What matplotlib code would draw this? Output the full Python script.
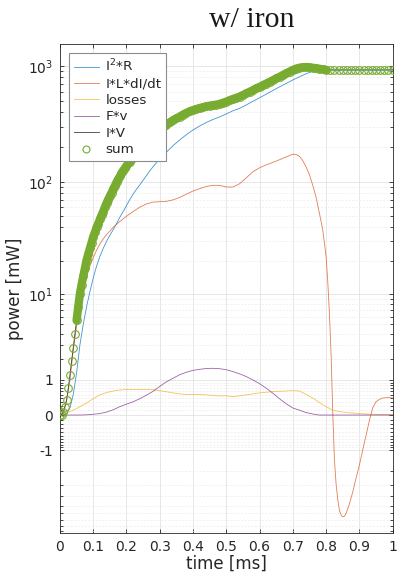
import numpy as np
import matplotlib
matplotlib.use("Agg")
import matplotlib.pyplot as plt
from matplotlib.lines import Line2D

# ---------------- data (time in ms, power in mW) ----------------
t_sum = [0.000, 0.005, 0.010, 0.015, 0.020, 0.025, 0.030, 0.035, 0.040, 0.045,
         0.050, 0.055, 0.060, 0.065, 0.070, 0.075, 0.080, 0.085, 0.090, 0.095,
         0.100, 0.105, 0.110, 0.115, 0.120, 0.125, 0.130, 0.135, 0.140, 0.145,
         0.150, 0.155, 0.160, 0.165, 0.170, 0.175, 0.180, 0.185, 0.190, 0.195,
         0.20, 0.21, 0.22, 0.23, 0.24, 0.25, 0.26, 0.27, 0.28, 0.29,
         0.30, 0.31, 0.32, 0.33, 0.34, 0.35, 0.36, 0.37, 0.38, 0.39,
         0.40, 0.41, 0.42, 0.43, 0.44, 0.45, 0.46, 0.47, 0.48, 0.49,
         0.50, 0.51, 0.52, 0.53, 0.54, 0.55, 0.56, 0.57, 0.58, 0.59,
         0.60, 0.61, 0.62, 0.63, 0.64, 0.65, 0.66, 0.67, 0.68, 0.69,
         0.70, 0.71, 0.72, 0.73, 0.74, 0.75, 0.76, 0.77, 0.78, 0.79,
         0.80, 0.8125, 0.825, 0.8375, 0.85, 0.8625, 0.875, 0.8875, 0.90,
         0.9125, 0.925, 0.9375, 0.95, 0.9625, 0.975, 0.9875, 1.0]
sum_vals = [0.0, 0.01, 0.06, 0.18, 0.35, 0.7, 1.2, 1.9, 2.8, 4.0,
            5.5, 7.5, 10.0, 12.2, 14.5, 17.2, 20.4, 23.0, 26.0, 29.2,
            33.0, 36.0, 40.0, 43.0, 47.0, 51.0, 55.0, 60.0, 65.0, 70.0,
            75.0, 80.0, 86.0, 92.0, 99.0, 105.0, 111.0, 118.0, 125.0, 131.0,
            137, 148, 160, 172, 185, 198, 212, 230, 250, 265,
            280, 295, 310, 325, 340, 352, 365, 380, 393, 405,
            415, 425, 433, 440, 447, 453, 458, 463, 470, 480,
            492, 505, 518, 530, 542, 560, 578, 597, 617, 638,
            658, 680, 703, 727, 750, 777, 803, 830, 860, 890,
            920, 945, 962, 972, 975, 970, 962, 952, 942, 932,
            923, 920, 920, 920, 920, 920, 920, 920, 920,
            920, 920, 920, 920, 920, 920, 920, 920]
iv_vals = list(sum_vals)  # I*V reads identical to the sum in the picture
dense_from, dense_to = 0.05, 0.80   # span where the sum markers merge into a solid band

t_i2r = [0.00, 0.01, 0.02, 0.03, 0.04, 0.05, 0.06, 0.07, 0.08, 0.09,
         0.10, 0.11, 0.12, 0.13, 0.14, 0.15, 0.16, 0.17, 0.18, 0.19,
         0.20, 0.21, 0.22, 0.23, 0.24, 0.25, 0.26, 0.27, 0.28, 0.29,
         0.30, 0.32, 0.34, 0.36, 0.38, 0.40, 0.42, 0.44, 0.46, 0.48,
         0.50, 0.52, 0.54, 0.56, 0.58, 0.60, 0.62, 0.64, 0.66, 0.68,
         0.70, 0.72, 0.74, 0.76, 0.78, 0.80, 0.85, 0.90, 0.95, 1.00]
i2r_vals = [0.0, 0.0, 0.02, 0.15, 0.5, 1.3, 3.0, 5.0, 7.5, 10.5,
            14, 18, 22, 26, 30, 34, 38, 43, 49, 55,
            62, 70, 78, 86, 94, 103, 113, 124, 135, 146,
            157, 180, 205, 230, 255, 280, 303, 325, 345, 363,
            385, 410, 430, 460, 495, 530, 570, 613, 658, 705,
            755, 803, 855, 895, 918, 920, 920, 920, 920, 920]

t_ildi = [0.00, 0.01, 0.02, 0.03, 0.04, 0.05, 0.06, 0.07, 0.08, 0.09,
          0.10, 0.11, 0.12, 0.13, 0.14, 0.15, 0.16, 0.18, 0.20, 0.22,
          0.24, 0.26, 0.28, 0.30, 0.32, 0.34, 0.36, 0.38, 0.40, 0.42,
          0.44, 0.46, 0.48, 0.50, 0.52, 0.54, 0.56, 0.58, 0.60, 0.62,
          0.64, 0.66, 0.68, 0.70, 0.71, 0.72, 0.73, 0.74, 0.75, 0.76,
          0.77, 0.78, 0.79, 0.80, 0.805, 0.81, 0.815, 0.82, 0.825, 0.83,
          0.835, 0.84, 0.845, 0.85, 0.855, 0.86, 0.87, 0.88, 0.89, 0.90,
          0.91, 0.92, 0.93, 0.94, 0.95, 0.96, 0.97, 0.98, 0.99, 1.00]
ildi_vals = [0.0, 0.05, 0.33, 1.0, 2.6, 4.8, 7.5, 10.8, 14.5, 18.0,
             21.5, 25.0, 28.5, 31.5, 34.5, 37.0, 40.0, 45.0, 50.0, 55.0,
             60.0, 64.0, 66.5, 67.0, 67.5, 69.5, 73.0, 78.0, 83.0, 87.0,
             91.0, 93.0, 93.0, 90.0, 90.0, 96.0, 108.0, 122.0, 132.0, 140.0,
             147.0, 155.0, 164.0, 173.0, 172.0, 166.0, 152.0, 134.0, 115.0, 93.0,
             73.0, 53.0, 38.0, 22.0, 13.0, 6.5, 2.3, 0.05, -1.4, -2.9,
             -4.3, -5.6, -6.2, -6.5, -6.4, -6.0, -4.8, -3.6, -2.5, -1.7,
             -1.0, -0.5, -0.12, 0.15, 0.3, 0.36, 0.4, 0.41, 0.41, 0.4]

t_slow = [0.00, 0.02, 0.04, 0.06, 0.08, 0.10, 0.12, 0.14, 0.16, 0.18,
          0.20, 0.22, 0.24, 0.26, 0.28, 0.30, 0.32, 0.34, 0.36, 0.38,
          0.40, 0.42, 0.44, 0.46, 0.48, 0.50, 0.52, 0.54, 0.56, 0.58,
          0.60, 0.62, 0.64, 0.66, 0.68, 0.70, 0.72, 0.74, 0.76, 0.78,
          0.80, 0.82, 0.84, 0.86, 0.88, 0.90, 0.92, 0.94, 0.96, 0.98, 1.00]
loss_vals = [0.0, 0.04, 0.1, 0.18, 0.27, 0.38, 0.49, 0.56, 0.61, 0.64,
             0.66, 0.66, 0.66, 0.66, 0.65, 0.62, 0.585, 0.55, 0.52, 0.50,
             0.50, 0.50, 0.49, 0.47, 0.46, 0.46, 0.44, 0.46, 0.49, 0.52,
             0.55, 0.57, 0.59, 0.60, 0.61, 0.62, 0.61, 0.50, 0.40, 0.28,
             0.18, 0.10, 0.07, 0.05, 0.04, 0.03, 0.02, 0.015, 0.01, 0.01, 0.01]
fv_vals = [0.0, 0.0, 0.0, 0.0, 0.005, 0.015, 0.03, 0.06, 0.11, 0.18,
           0.24, 0.30, 0.38, 0.48, 0.60, 0.76, 0.93, 1.07, 1.22, 1.33,
           1.42, 1.47, 1.51, 1.52, 1.50, 1.45, 1.36, 1.26, 1.14, 1.00,
           0.86, 0.70, 0.54, 0.38, 0.25, 0.15, 0.10, 0.05, 0.02, 0.0,
           0.0, 0.0, 0.0, 0.0, 0.0, 0.0, 0.0, 0.0, 0.0, 0.0, 0.0]

x_ticks = [0, 0.1, 0.2, 0.3, 0.4, 0.5, 0.6, 0.7, 0.8, 0.9, 1.0]
x_ticklabels = ['0', '0.1', '0.2', '0.3', '0.4', '0.5', '0.6', '0.7', '0.8', '0.9', '1']
y_ticks = [-1, 0, 1, 10, 100, 1000]
y_ticklabels = ['-1', '0', '1', r'$10^1$', r'$10^2$', r'$10^3$']
labels = ['I$^2$*R', 'I*L*dI/dt', 'losses', 'F*v', 'I*V', 'sum']

# ---------------- figure ----------------
plt.rcParams['font.family'] = ['DejaVu Sans']
plt.rcParams['mathtext.default'] = 'regular'
fig = plt.figure(figsize=(3.97, 5.75), dpi=100)
ax = fig.add_axes([0.151, 0.0735, 0.838, 0.8495])


def fwd(x):
    x = np.asarray(x, dtype=float)
    return np.sign(x) * np.log10(1 + np.abs(x))


def inv(y):
    y = np.asarray(y, dtype=float)
    return np.sign(y) * (10 ** np.abs(y) - 1)


ax.set_yscale('function', functions=(fwd, inv))

c_blue = '#0072BD'
c_orange = '#D95319'
c_yellow = '#EDB120'
c_purple = '#7E2F8E'
c_dark = '#404040'
c_green = '#77AC30'

lw = 0.6
ax.plot(t_i2r, i2r_vals, color=c_blue, lw=lw, alpha=0.75, zorder=3)
ax.plot(t_ildi, ildi_vals, color=c_orange, lw=lw, alpha=0.75, zorder=3)
ax.plot(t_slow, loss_vals, color=c_yellow, lw=lw, alpha=0.75, zorder=3)
ax.plot(t_slow, fv_vals, color=c_purple, lw=lw, alpha=0.75, zorder=3)
ax.plot(t_sum, iv_vals, color=c_dark, lw=lw, zorder=3)

ts = np.asarray(t_sum)
sv = np.asarray(sum_vals)
dense = (ts >= dense_from) & (ts <= dense_to)
ax.plot(ts[dense], sv[dense], color=c_green, lw=6.0, solid_capstyle='round',
        solid_joinstyle='round', zorder=4)
ax.plot(t_sum, sum_vals, ls='none', marker='o', ms=5.5, mfc='none',
        mec=c_green, mew=0.8, zorder=4)

ax.set_xlim(0, 1)
ax.set_ylim(-9.26, 1530)

ax.set_xticks(x_ticks)
ax.set_xticklabels(x_ticklabels)
ax.set_yticks(y_ticks)
ax.set_yticklabels(y_ticklabels)

minor = []
for k in range(1, 10):
    minor += [k / 10.0, -k / 10.0]
for k in range(2, 10):
    minor += [k, -k, 10 * k, 100 * k]
ax.set_yticks(sorted(minor), minor=True)
ax.tick_params(axis='y', which='minor', labelleft=False)

ax.tick_params(which='both', direction='in', top=True, right=True,
               colors='#262626', labelsize=10, length=3, width=0.6, pad=5)
ax.tick_params(which='minor', length=2)
for s in ax.spines.values():
    s.set_color('#262626')
    s.set_linewidth(0.6)

ax.grid(which='major', color='#e3e3e3', lw=0.6, zorder=0)
ax.grid(which='minor', axis='y', color='#ececec', lw=0.5, ls=(0, (3, 2)), zorder=0)
ax.set_axisbelow(True)

ax.set_xlabel('time [ms]', fontsize=12, color='#262626', labelpad=1)
ax.set_ylabel('power [mW]', fontsize=12, color='#262626', labelpad=3)

fig.text(0.635, 0.9525, 'w/ iron', fontsize=21.5, family='Liberation Serif',
         ha='center', va='baseline', color='#1a1a1a')

handles = [Line2D([], [], color=c_blue, lw=lw, alpha=0.75),
           Line2D([], [], color=c_orange, lw=lw, alpha=0.75),
           Line2D([], [], color=c_yellow, lw=lw, alpha=0.75),
           Line2D([], [], color=c_purple, lw=lw, alpha=0.75),
           Line2D([], [], color=c_dark, lw=lw),
           Line2D([], [], ls='none', marker='o', ms=5, mfc='none', mec=c_green, mew=0.8)]
leg = ax.legend(handles, labels, loc='upper left', bbox_to_anchor=(0.027, 0.982),
                borderaxespad=0, fontsize=9.7, handlelength=1.85, handletextpad=0.5,
                labelspacing=0.25, borderpad=0.35, fancybox=False, framealpha=1,
                edgecolor='#8c8c8c')
leg.get_frame().set_linewidth(0.8)
for txt in leg.get_texts():
    txt.set_color('#262626')

fig.savefig('out.png', dpi=100)
